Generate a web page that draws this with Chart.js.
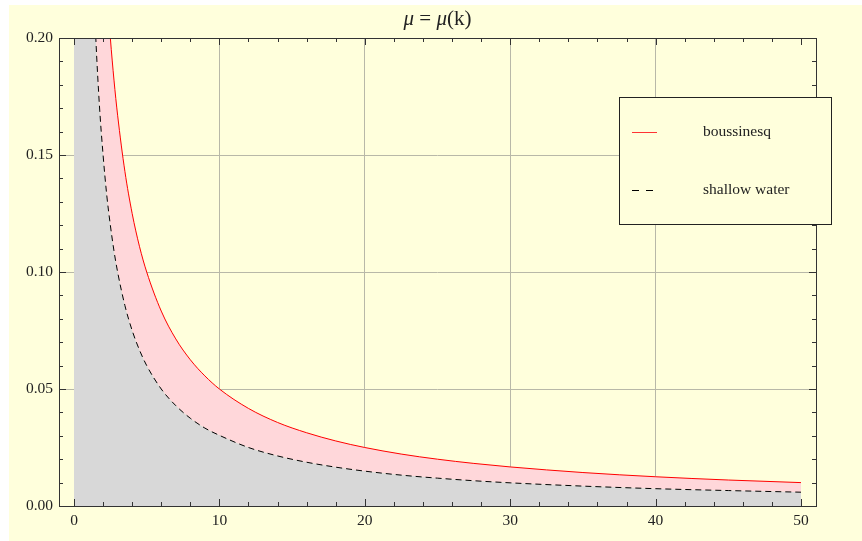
<!DOCTYPE html>
<html>
<head>
<meta charset="utf-8">
<script src="https://cdn.jsdelivr.net/npm/chart.js@4.4.1/dist/chart.umd.min.js"></script>
<style>
    body { margin: 0; background: #ffffff; }
    #wrap { position: relative; width: 862px; height: 541px; }
</style>
</head>
<body>
<div id="wrap"><canvas id="chart" width="862" height="541"></canvas></div>
<script>
// values (k = 0 entries are off the top of the plot)
const kValues = [0, 0.5, 1, 1.25, 1.5, 1.75, 2, 2.25, 2.5, 2.75, 3, 3.5, 4, 4.5, 5, 6, 7, 8, 9, 10, 12, 14, 16, 18, 20, 22.5, 25, 27.5, 30, 35, 40, 45, 50];
const boussinesq = [3, 1.0, 0.5, 0.4, 0.333, 0.286, 0.25, 0.222, 0.2, 0.182, 0.167, 0.143, 0.125, 0.111, 0.1, 0.0833, 0.0714, 0.0625, 0.0556, 0.05, 0.0417, 0.0357, 0.0313, 0.0278, 0.025, 0.0222, 0.02, 0.0182, 0.0167, 0.0143, 0.0125, 0.0111, 0.01];
const shallowWater = [3, 0.6, 0.3, 0.24, 0.2, 0.171, 0.15, 0.133, 0.12, 0.109, 0.1, 0.0857, 0.075, 0.0667, 0.06, 0.05, 0.0429, 0.0375, 0.0333, 0.0302, 0.025, 0.0214, 0.0187, 0.0166, 0.0149, 0.0132, 0.0119, 0.0108, 0.0099, 0.0085, 0.0074, 0.0066, 0.0059];
const xTicks = [0, 10, 20, 30, 40, 50];
const yTicks = [0, 0.05, 0.10, 0.15, 0.20];
const seriesNames = ['boussinesq', 'shallow water'];

const BG = '#ffffdc';
const FONT = "'Liberation Serif', 'DejaVu Serif', serif";

function pts(ys) {
    return kValues.map((k, i) => ({ x: k, y: ys[i] }));
}

// background, frame with inward ticks, title and boxed legend
const framePlugin = {
    id: 'frame',
    beforeDraw(chart) {
        const c = chart.ctx;
        c.save();
        c.fillStyle = BG;
        c.fillRect(9, 5, 853, 536);
        c.restore();
    },
    afterDraw(chart) {
        const c = chart.ctx;
        const a = chart.chartArea;
        const xs = chart.scales.x, ys = chart.scales.y;
        c.save();
        c.strokeStyle = '#333';
        c.lineWidth = 1;
        c.strokeRect(Math.round(a.left) + 0.5, Math.round(a.top) + 0.5, Math.round(a.right - a.left), Math.round(a.bottom - a.top));

        c.beginPath();
        for (let v = 0; v <= 50.001; v += 2) {
            const px = Math.round(xs.getPixelForValue(v)) + 0.5;
            const len = (Math.abs(v % 10) < 0.001) ? 7 : 4;
            c.moveTo(px, a.bottom); c.lineTo(px, a.bottom - len);
            c.moveTo(px, a.top); c.lineTo(px, a.top + len);
        }
        for (let i = 0; i <= 20; i++) {
            const v = i / 100;
            const py = Math.round(ys.getPixelForValue(v)) + 0.5;
            const len = (i % 5 === 0) ? 7 : 4;
            c.moveTo(a.left, py); c.lineTo(a.left + len, py);
            c.moveTo(a.right, py); c.lineTo(a.right - len, py);
        }
        c.stroke();

        // title  mu = mu(k)
        c.fillStyle = '#222';
        c.textBaseline = 'alphabetic';
        const parts = [['italic 21px ' + FONT, '\u03bc'], ['21px ' + FONT, ' = '], ['italic 21px ' + FONT, '\u03bc'], ['21px ' + FONT, '(k)']];
        let total = 0;
        parts.forEach(p => { c.font = p[0]; total += c.measureText(p[1]).width; });
        let tx = (a.left + a.right) / 2 - total / 2;
        parts.forEach(p => { c.font = p[0]; c.fillText(p[1], tx, 25); tx += c.measureText(p[1]).width; });

        // legend
        c.fillStyle = BG;
        c.fillRect(619, 97, 212, 127);
        c.strokeStyle = '#222';
        c.strokeRect(619.5, 97.5, 212, 127);
        c.strokeStyle = '#ff3333';
        c.beginPath(); c.moveTo(632, 132.5); c.lineTo(657, 132.5); c.stroke();
        c.strokeStyle = '#000';
        c.setLineDash([7, 7]);
        c.beginPath(); c.moveTo(632, 190.5); c.lineTo(653, 190.5); c.stroke();
        c.setLineDash([]);
        c.fillStyle = '#222';
        c.font = '15.5px ' + FONT;
        c.textBaseline = 'middle';
        c.fillText(seriesNames[0], 703, 132);
        c.fillText(seriesNames[1], 703, 190);
        c.restore();
    }
};

new Chart(document.getElementById('chart'), {
    type: 'line',
    data: {
        datasets: [
            {
                label: seriesNames[1],
                data: pts(shallowWater),
                borderColor: '#000',
                borderWidth: 1,
                borderDash: [6, 4],
                backgroundColor: '#d8d8d8',
                fill: 'origin',
                pointRadius: 0,
                cubicInterpolationMode: 'monotone'
            },
            {
                label: seriesNames[0],
                data: pts(boussinesq),
                borderColor: '#ff0000',
                borderWidth: 1,
                backgroundColor: '#ffd7da',
                fill: 0,
                pointRadius: 0,
                cubicInterpolationMode: 'monotone'
            }
        ]
    },
    options: {
        responsive: false,
        animation: false,
        layout: { padding: { top: 38, right: 46, bottom: 0, left: 0 } },
        plugins: {
            legend: { display: false },
            title: { display: false },
            tooltip: { enabled: false }
        },
        scales: {
            x: {
                type: 'linear',
                min: -1.032,
                max: 51.032,
                afterBuildTicks: s => { s.ticks = xTicks.map(v => ({ value: v })); },
                afterFit: s => { s.height = 35; },
                border: { display: false },
                grid: {
                    drawTicks: false,
                    color: ctx => (ctx.tick && ctx.tick.value > 0 && ctx.tick.value < 50) ? '#b8b8a8' : 'rgba(0,0,0,0)'
                },
                ticks: {
                    padding: 6,
                    color: '#222',
                    font: { family: FONT, size: 15.5 },
                    maxRotation: 0,
                    callback: v => String(v)
                }
            },
            y: {
                min: 0,
                max: 0.2,
                afterBuildTicks: s => { s.ticks = yTicks.map(v => ({ value: v })); },
                afterFit: s => { s.width = 59; },
                border: { display: false },
                grid: {
                    drawTicks: false,
                    color: ctx => (ctx.tick && ctx.tick.value > 0.001 && ctx.tick.value < 0.199) ? '#b8b8a8' : 'rgba(0,0,0,0)'
                },
                ticks: {
                    padding: 6,
                    color: '#222',
                    font: { family: FONT, size: 15.5 },
                    callback: v => Number(v).toFixed(2)
                }
            }
        }
    },
    plugins: [framePlugin]
});
</script>
</body>
</html>
